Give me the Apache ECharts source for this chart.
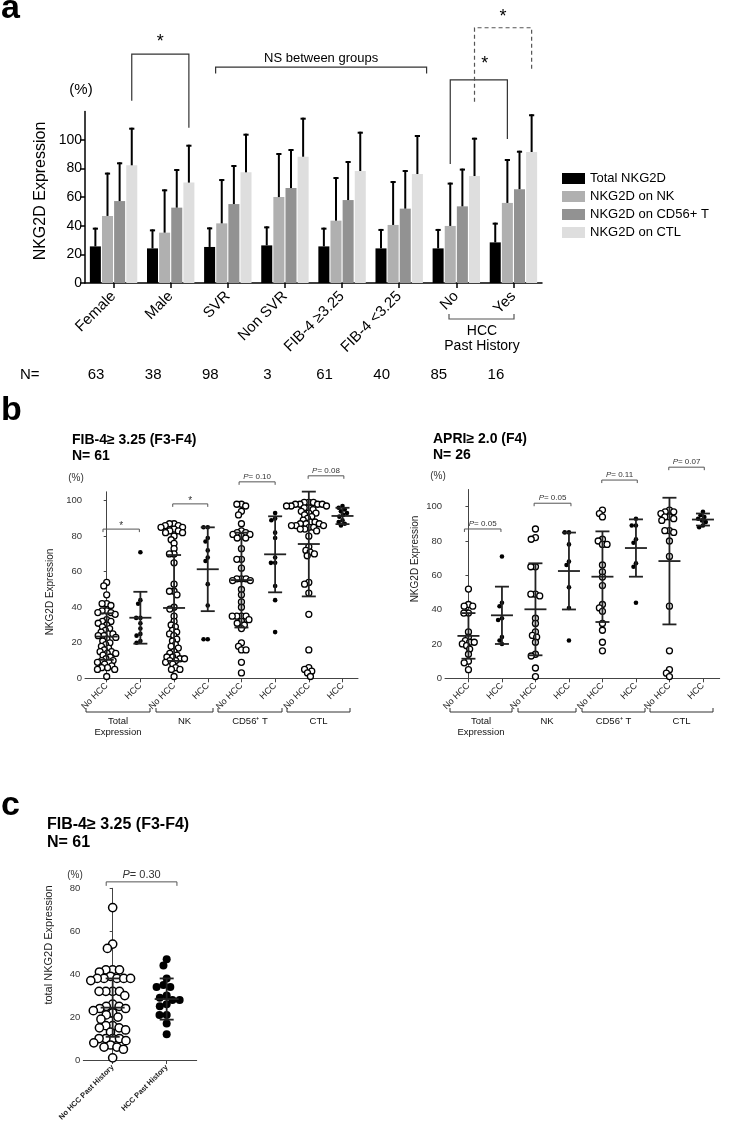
<!DOCTYPE html>
<html><head><meta charset="utf-8">
<script src="https://cdn.jsdelivr.net/npm/echarts@6/dist/echarts.min.js"></script>
<style>html,body{margin:0;padding:0;background:#fff}#c{width:730px;height:1126px}</style>
</head><body><div id="c"></div>
<script>
// ---------------- Panel a data ----------------
const groupsA = ['Female','Male','SVR','Non SVR','FIB-4 \u22653.25','FIB-4 <3.25','No','Yes'];
const nCounts = ['63','38','98','3','61','40','85','16'];
const seriesNamesA = ['Total NKG2D','NKG2D on NK','NKG2D on CD56+ T','NKG2D on CTL'];
const meanTotal = [25.6,24.2,25.2,26.3,25.6,24.2,24.2,28.4];
const sdTotal   = [13.1,13.3,13.7,13.3,13.1,13.6,13.6,13.8];
const meanNK    = [46.9,35.2,41.7,60.1,43.6,40.6,39.9,56.0];
const sdNK      = [30.3,30.3,31.0,30.8,30.5,30.7,30.3,30.7];
const meanCD56  = [57.3,52.7,55.2,66.4,58.0,52.0,53.6,65.6];
const sdCD56    = [27.1,27.0,27.3,27.3,27.3,27.0,26.4,26.9];
const meanCTL   = [82.3,70.2,77.4,88.3,78.3,76.2,74.8,91.6];
const sdCTL     = [26.3,26.5,27.0,27.3,27.5,27.3,26.8,26.4];
const ticksA = [0,20,40,60,80,100];

// ---------------- Panel b data ----------------
const labelsB = ['No HCC','HCC','No HCC','HCC','No HCC','HCC','No HCC','HCC'];
const cellTypesB = ['Total\nExpression','NK','CD56\u207A T','CTL'];
const ticksB = [0,20,40,60,80,100];
// FIB-4 >= 3.25
const fibTotalNoHCC = [54,52,47,42,42,41,38,38,37,37,36,33,32,32,31,30,29,28,27,26,25,25,24,24,23,22,21,20,19,18,17,16,15,15,14,14,13,12,11,10,10,9,9,8,7,6,6,5,5,1];
const fibTotalHCC   = [71,44,42,34,34,31,28,25,24,21,20];
const fibNKNoHCC    = [87,87,86,86,85,85,84,83,83,82,82,80,78,76,73,70,70,65,53,49,49,47,40,39,35,32,30,29,27,26,25,24,22,21,19,18,17,15,14,13,12,12,11,11,10,10,9,8,6,5,5,1];
const fibNKHCC      = [85,85,79,77,72,68,66,53,41,22,22];
const fibCD56NoHCC  = [98,98,97,94,92,87,83,82,82,81,81,80,79,79,73,67,67,62,56,56,56,55,55,50,47,43,40,35,35,35,35,33,32,31,30,28,20,18,16,16,9,3];
const fibCD56HCC    = [93,90,89,82,79,68,65,65,52,44,26];
const fibCTLNoHCC   = [99,99,99,98,98,98,98,97,97,97,96,96,95,94,93,93,92,91,90,89,88,88,87,87,87,86,86,86,85,85,84,84,83,80,74,72,71,70,69,54,53,48,36,16,6,5,4,3,1];
const fibCTLHCC     = [97,96,95,94,93,92,91,89,88,87,86];
const fibMeans = [23.5,34.1,39.6,61.4,55.3,69.8,75.6,91.4];
const fibSDs   = [13.1,14.6,29.8,23.6,26.7,21.4,29.5,4.6];
// APRI >= 2.0
const apriTotalNoHCC = [52,43,42,42,38,38,27,24,22,21,21,20,19,17,14,10,9,5];
const apriTotalHCC   = [71,44,42,35,34,24,22,20];
const apriNKNoHCC    = [87,82,81,65,65,49,49,48,35,32,27,25,24,21,14,13,6,1];
const apriNKHCC      = [85,85,78,68,66,53,41,22];
const apriCD56NoHCC  = [98,96,94,81,80,78,78,66,62,59,54,43,41,39,32,28,21,16];
const apriCD56HCC    = [93,89,89,81,79,67,65,44];
const apriCTLNoHCC   = [98,97,97,96,94,94,93,92,86,86,85,80,71,42,16,5,3,1];
const apriCTLHCC     = [97,95,94,93,92,91,89,88];
const apriMeans = [24.7,36.7,40.2,62.5,59.2,75.9,68.3,92.5];
const apriSDs   = [13.3,16.7,26.8,22.4,26.4,16.7,36.9,3.5];

// ---------------- Panel c data ----------------
const labelsC = ['No HCC Past History','HCC Past History'];
const ticksC = [0,20,40,60,80];
const cNoHCC = [71,54,52,42,42,42,41,39,38,38,38,38,38,37,32,32,32,32,30,26,25,25,24,24,23,22,21,20,19,16,16,15,15,14,13,10,10,10,10,9,8,7,6,6,5,1];
const cHCC   = [47,44,38,35,34,34,30,29,28,28,26,25,21,21,17,12];
const cMeans = [24.4,28.4];
const cSDs   = [13.6,9.6];

// ---------------- helpers ----------------
const FONT = '"Liberation Sans", Arial, Helvetica, sans-serif';
const colorsA = ['#000000','#b0b0b0','#929292','#dedede'];

function swarm(vals, g, pxX, pxY, d) {
  const placed = [], out = [];
  const order = vals.map((v,i)=>i).sort((a,b)=>vals[b]-vals[a]);
  for (const i of order) {
    const yp = vals[i]*pxY;
    const cands = [0];
    for (const p of placed) {
      const dy = Math.abs(p.y-yp);
      if (dy < d) { const h = Math.sqrt(d*d-dy*dy); cands.push(p.x+h, p.x-h); }
    }
    cands.sort((a,b)=>Math.abs(a)-Math.abs(b) || a-b);
    let cx = 0;
    for (const c of cands) {
      let ok = true;
      for (const p of placed) { const dx=p.x-c, dy=p.y-yp; if (dx*dx+dy*dy < d*d-0.01) { ok=false; break; } }
      if (ok) { cx = c; break; }
    }
    placed.push({x:cx, y:yp});
    out.push([g + cx/pxX, vals[i]]);
  }
  return out;
}

function barOffset(k, band) {
  const rem = band*(1-0.17);
  const w = rem/(4+3*0.10);
  return -rem/2 + k*w*1.10 + w/2;
}

function errSeries(k, means, sds) {
  return {type:'custom', xAxisIndex:0, yAxisIndex:0, z:4, silent:true,
    data: means.map((m,i)=>[i,m,sds[i]]),
    renderItem(params, api) {
      const band = api.size([1,0])[0];
      const b = api.coord([api.value(0), api.value(1)]);
      const t = api.coord([api.value(0), api.value(1)+api.value(2)]);
      const x = b[0] + barOffset(k, band);
      const st = {stroke:'#000', lineWidth:2};
      return {type:'group', children:[
        {type:'line', shape:{x1:x,y1:b[1],x2:x,y2:t[1]}, style:st},
        {type:'line', shape:{x1:x-2.6,y1:t[1]+1,x2:x+2.6,y2:t[1]+1}, style:st}
      ]};
    }};
}

// significance brackets in panel a: [cat1, slot1, cat2, slot2, yLeft, yTop, yRight]
function sigA(spec, opts) {
  return {type:'custom', xAxisIndex:0, yAxisIndex:0, z:6, silent:true, clip:false,
    data:[spec],
    renderItem(params, api) {
      const band = api.size([1,0])[0];
      const xL = api.coord([api.value(0),0])[0] + barOffset(api.value(1), band);
      const xR = api.coord([api.value(2),0])[0] + barOffset(api.value(3), band);
      const yL = api.coord([0, api.value(4)])[1];
      const yT = api.coord([0, api.value(5)])[1];
      const yR = api.coord([0, api.value(6)])[1];
      const st = {stroke:opts.color||'#333', lineWidth:1.2, fill:null, lineDash:opts.dash||null};
      const ch = [{type:'polyline', shape:{points:[[xL,yL],[xL,yT],[xR,yT],[xR,yR]]}, style:st}];
      ch.push({type:'text', x:(xL+xR)/2 + (opts.dx||0), y:yT-(opts.gap||7),
        style:{text:opts.text, fontSize:opts.fs||18, fontFamily:FONT, fill:'#000', align:'center', verticalAlign:'bottom'}});
      return {type:'group', children:ch};
    }};
}

// brackets in value-axis panels: [x1, x2, y]
function bracket(xi, yi, spec, text, fs, tick, italicP) {
  return {type:'custom', xAxisIndex:xi, yAxisIndex:yi, z:6, silent:true, clip:false,
    data:[spec],
    renderItem(params, api) {
      const p1 = api.coord([api.value(0), api.value(2)]);
      const p2 = api.coord([api.value(1), api.value(2)]);
      const st = {stroke:'#555', lineWidth:1, fill:null};
      const textStyle = {text: italicP ? '{i|P}= ' + text : text, fontSize:fs, fontFamily:FONT, fill:'#333',
        align:'center', verticalAlign:'bottom',
        rich:{i:{fontStyle:'italic', fontSize:fs, fontFamily:FONT, fill:'#333'}}};
      return {type:'group', children:[
        {type:'polyline', shape:{points:[[p1[0],p1[1]+tick],[p1[0],p1[1]],[p2[0],p2[1]],[p2[0],p2[1]+tick]]}, style:st},
        {type:'text', x:(p1[0]+p2[0])/2, y:p1[1]-(italicP?1:-2), style:textStyle}
      ]};
    }};
}

function meanSeries(xi, yi, means, sds, mw, cw, lw) {
  return {type:'custom', xAxisIndex:xi, yAxisIndex:yi, z:5, silent:true,
    data: means.map((m,i)=>[i,m,sds[i]]),
    renderItem(params, api) {
      const g=api.value(0), m=api.value(1), s=api.value(2);
      const c=api.coord([g,m]), t=api.coord([g,m+s]), b=api.coord([g,m-s]);
      const st={stroke:'#222', lineWidth:lw};
      return {type:'group', children:[
        {type:'line', shape:{x1:c[0],y1:t[1],x2:c[0],y2:b[1]}, style:st},
        {type:'line', shape:{x1:c[0]-mw,y1:c[1],x2:c[0]+mw,y2:c[1]}, style:st},
        {type:'line', shape:{x1:c[0]-cw,y1:t[1],x2:c[0]+cw,y2:t[1]}, style:st},
        {type:'line', shape:{x1:c[0]-cw,y1:b[1],x2:c[0]+cw,y2:b[1]}, style:st}
      ]};
    }};
}

function openSeries(xi, yi, data, size, bw) {
  return {type:'scatter', xAxisIndex:xi, yAxisIndex:yi, z:3, silent:true, symbol:'circle', symbolSize:size,
    itemStyle:{color:'#fff', borderColor:'#000', borderWidth:bw, opacity:1}, data};
}
function filledSeries(xi, yi, data, size) {
  return {type:'scatter', xAxisIndex:xi, yAxisIndex:yi, z:3, silent:true, symbol:'circle', symbolSize:size,
    itemStyle:{color:'#000', opacity:1}, data};
}

function valX(grid, min, max, labels, fs, bold) {
  const cv = labels.map((l,i)=>i);
  return {type:'value', gridIndex:grid, min, max, splitLine:{show:false},
    axisLine:{show:true, onZero:false, lineStyle:{color:'#444', width:1}},
    axisTick:{show:true, customValues:cv, length:4, lineStyle:{color:'#444'}},
    axisLabel:{show:true, customValues:cv, formatter:v=>labels[Math.round(v)]||'', rotate:45, fontSize:fs,
      fontWeight:bold?'bold':'normal', color:'#222', fontFamily:FONT, margin:6}};
}
function valY(grid, max, ticks, fs) {
  return {type:'value', gridIndex:grid, min:0, max, splitLine:{show:false},
    axisLine:{show:true, lineStyle:{color:'#444', width:1}},
    axisTick:{show:true, customValues:ticks, length:3, lineStyle:{color:'#444'}},
    axisLabel:{show:true, customValues:ticks, fontSize:fs, color:'#333', fontFamily:FONT, margin:3}};
}

// ---------------- graphic text ----------------
const G = [];
function txt(x, y, text, fs, o) {
  o = o || {};
  G.push({type:'text', x, y, rotation:o.rot||0, silent:true, z:100,
    style:{text, fontSize:fs, fontFamily:FONT, fontWeight:o.bold?'bold':'normal', fill:o.color||'#000',
      align:o.align||'left', verticalAlign:o.va||'middle', lineHeight:o.lh||undefined, rich:o.rich||undefined}});
}
function pl(points, color, lw) {
  G.push({type:'polyline', silent:true, z:100, shape:{points}, style:{stroke:color||'#000', lineWidth:lw||1, fill:null}});
}

// panel a
txt(1, 9, 'a', 34, {bold:true});
txt(81, 90, '(%)', 15, {align:'center'});
txt(41, 191, 'NKG2D Expression', 16, {align:'center', rot:Math.PI/2});
txt(20, 375, 'N=', 15);
const catWA = 457/8;
nCounts.forEach((n,i)=>txt(85 + catWA*(i+0.5) - 17.5, 375, n, 15, {align:'center'}));
pl([[449,314],[449,319],[514,319],[514,314]], '#555', 1.2);
txt(482, 331, 'HCC', 14, {align:'center'});
txt(482, 346, 'Past History', 14, {align:'center'});
// panel b
txt(1, 411, 'b', 34, {bold:true});
txt(72, 440, 'FIB-4\u2265 3.25 (F3-F4)', 14, {bold:true});
txt(72, 456, 'N= 61', 14, {bold:true});
txt(433, 439, 'APRI\u2265 2.0 (F4)', 14, {bold:true});
txt(433, 455, 'N= 26', 14, {bold:true});
txt(76, 478, '(%)', 10, {align:'center', color:'#333'});
txt(438, 476, '(%)', 10, {align:'center', color:'#333'});
txt(50, 592, 'NKG2D Expression', 10, {align:'center', rot:Math.PI/2, color:'#222'});
txt(415, 559, 'NKG2D Expression', 10, {align:'center', rot:Math.PI/2, color:'#222'});
const brL = [[86,150],[156,213],[218,282],[287,350]];
const brR = [[450,512],[518,576],[582,645],[650,713]];
[brL, brR].forEach(br => {
  br.forEach((b,i) => {
    pl([[b[0],708],[b[0],712],[b[1],712],[b[1],708]], '#333', 1);
    txt((b[0]+b[1])/2, i===0 ? 727 : 721, cellTypesB[i], 9.5, {align:'center', color:'#111', lh:11});
  });
});
// panel c
txt(1, 806, 'c', 34, {bold:true});
txt(47, 825, 'FIB-4\u2265 3.25 (F3-F4)', 16, {bold:true});
txt(47, 843, 'N= 61', 16, {bold:true});
txt(75, 875, '(%)', 10, {align:'center', color:'#333'});
txt(49, 945, 'total NKG2D Expression', 11, {align:'center', rot:Math.PI/2, color:'#222'});

// ---------------- series ----------------
const series = [];
const meansA = [meanTotal, meanNK, meanCD56, meanCTL];
const sdsA = [sdTotal, sdNK, sdCD56, sdCTL];
seriesNamesA.forEach((nm,k)=>{
  series.push({type:'bar', name:nm, xAxisIndex:0, yAxisIndex:0, data:meansA[k], barCategoryGap:'17%', barGap:'10%',
    itemStyle:{color:colorsA[k]}, silent:true});
});
seriesNamesA.forEach((nm,k)=>series.push(errSeries(k, meansA[k], sdsA[k])));
series.push(sigA([0,3,1,3,127.5,160.1,108.6], {text:'*', fs:18, gap:3}));
series.push(sigA([2,0.495,5,3.76,146.5,151.0,146.5], {text:'NS between groups', fs:13, gap:2}));
series.push(sigA([6,1,7,1,83.2,142.0,100.7], {text:'*', fs:18, gap:0, dx:6}));
series.push(sigA([6,3,7,3,126.8,178.5,148.3], {text:'*', fs:18, gap:2, color:'#555', dash:[4,3]}));

// panels b
const bl = {pxX:33.69, pxY:1.776};
const fibGroups = [fibTotalNoHCC, fibTotalHCC, fibNKNoHCC, fibNKHCC, fibCD56NoHCC, fibCD56HCC, fibCTLNoHCC, fibCTLHCC];
const br_ = {pxX:33.5, pxY:1.717};
const apriGroups = [apriTotalNoHCC, apriTotalHCC, apriNKNoHCC, apriNKHCC, apriCD56NoHCC, apriCD56HCC, apriCTLNoHCC, apriCTLHCC];
function addSwarmPanel(xi, groups, sc) {
  let open=[], filled=[];
  groups.forEach((vals,g)=>{
    if (g%2===0) open = open.concat(swarm(vals, g, sc.pxX, sc.pxY, 4.6));
    else filled = filled.concat(swarm(vals, g, sc.pxX, sc.pxY, 4.2));
  });
  series.push(openSeries(xi, xi, open, 6, 1.3));
  series.push(filledSeries(xi, xi, filled, 4.6));
}
addSwarmPanel(1, fibGroups, bl);
series.push(meanSeries(1, 1, fibMeans, fibSDs, 11, 7, 1.8));
addSwarmPanel(2, apriGroups, br_);
series.push(meanSeries(2, 2, apriMeans, apriSDs, 11, 7, 1.8));
series.push(bracket(1,1,[-0.11,0.97,84],'*',10,3,false));
series.push(bracket(1,1,[1.96,3.0,98.2],'*',10,3,false));
series.push(bracket(1,1,[3.93,5.0,110.6],'0.10',8,3,true));
series.push(bracket(1,1,[5.98,7.04,114],'0.08',8,3,true));
series.push(bracket(2,2,[-0.12,0.97,87],'0.05',8,3,true));
series.push(bracket(2,2,[1.96,3.06,102],'0.05',8,3,true));
series.push(bracket(2,2,[3.98,5.04,115.5],'0.11',8,3,true));
series.push(bracket(2,2,[5.98,7.04,123],'0.07',8,3,true));

// panel c
series.push(openSeries(3, 3, swarm(cNoHCC, 0, 54, 2.146, 6.8), 8.2, 1.5));
series.push(filledSeries(3, 3, swarm(cHCC, 1, 54, 2.146, 7.2), 8));
series.push(meanSeries(3, 3, cMeans, cSDs, 12, 7, 1.8));
series.push(bracket(3,3,[-0.12,1.19,83],'0.30',11,4,true));

const option = {
  animation:false,
  backgroundColor:'#fff',
  textStyle:{fontFamily:FONT},
  legend:{data:seriesNamesA, orient:'vertical', left:557, top:167, icon:'rect', itemWidth:23, itemHeight:11, itemGap:5,
    selectedMode:false, textStyle:{fontSize:13, color:'#000', fontFamily:FONT, lineHeight:13}},
  grid:[
    {left:85, top:111.4, width:457, height:171.6, containLabel:false},
    {left:85, top:491.8, width:273, height:186.5, containLabel:false},
    {left:445, top:489.5, width:274.7, height:188.8, containLabel:false},
    {left:83.3, top:888.3, width:113.4, height:171.7, containLabel:false}
  ],
  xAxis:[
    {type:'category', gridIndex:0, data:groupsA, boundaryGap:true,
      axisLine:{show:true, lineStyle:{color:'#000', width:1.5}},
      axisTick:{show:true, alignWithLabel:true, length:5, lineStyle:{color:'#000', width:1.5}},
      axisLabel:{rotate:45, fontSize:15, color:'#000', fontFamily:FONT, margin:11, interval:0}},
    valX(1, -0.644, 7.46, labelsB, 9, false),
    valX(2, -0.7, 7.5, labelsB, 9, false),
    valX(3, -0.544, 1.556, labelsC, 7.5, true)
  ],
  yAxis:[
    {type:'value', gridIndex:0, min:0, max:120, splitLine:{show:false},
      axisLine:{show:true, lineStyle:{color:'#000', width:1.5}},
      axisTick:{show:true, customValues:ticksA, length:5, lineStyle:{color:'#000', width:1.5}},
      axisLabel:{show:true, customValues:ticksA, fontSize:14, color:'#000', fontFamily:FONT, margin:3}},
    valY(1, 105, ticksB, 9.5),
    valY(2, 110, ticksB, 9.5),
    valY(3, 80, ticksC, 9.5)
  ],
  series,
  graphic:G
};
const chart = echarts.init(document.getElementById('c'));
chart.setOption(option);
</script></body></html>
